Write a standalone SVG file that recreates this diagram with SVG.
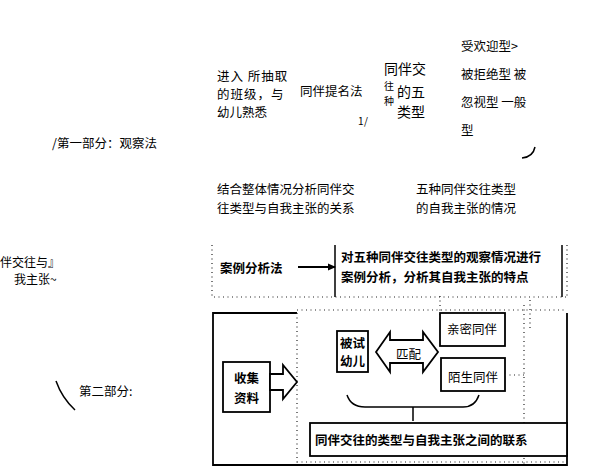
<svg xmlns="http://www.w3.org/2000/svg" width="608" height="470" viewBox="0 0 608 470">
<style>
text{font-family:"Noto Sans CJK SC","Noto Sans",sans-serif;fill:#000}
.t{font-size:12.5px}
.s{font-size:12.5px;font-weight:bold}
.box{fill:#fff;stroke:#000;stroke-width:1.8}
.dot{fill:none;stroke:#222;stroke-width:1.2;stroke-dasharray:1 3.5}
.ln{fill:none;stroke:#000;stroke-width:1.5}
</style>
<defs>
<marker id="ah" markerWidth="8" markerHeight="8" refX="7" refY="4" orient="auto" markerUnits="userSpaceOnUse">
<path d="M0,0.5 L8,4 L0,7.5 Z" fill="#000"/>
</marker>
</defs>
<rect width="608" height="470" fill="#fff"/>

<g id="part1">
<text class="t" x="52" y="148">/第一部分：观察法</text>
</g>
<g id="enter">
<text class="t" x="217" y="81" letter-spacing="1">进入 所抽取</text>
<text class="t" x="217" y="99" letter-spacing="1">的班级，与</text>
<text class="t" x="217" y="117">幼儿熟悉</text>
</g>
<g id="nominate">
<text class="t" x="300" y="96">同伴提名法</text>
<text x="358" y="125" font-size="10" fill="#c60">1</text><text x="364" y="125" font-size="10" fill="#57a">/</text>
</g>
<g id="fivetypes">
<text x="384" y="74" font-size="14">同伴交</text>
<text x="384" y="90" font-size="10">往</text>
<text x="384" y="105" font-size="10">种</text>
<text x="397" y="97" font-size="14">的五</text>
<text x="397" y="117" font-size="14">类型</text>
</g>
<g id="typelist">
<text class="t" x="461" y="51">受欢迎型&gt;</text>
<text class="t" x="461" y="79">被拒绝型 被</text>
<text class="t" x="461" y="107">忽视型 一般</text>
<text class="t" x="461" y="135">型</text>
<path class="ln" d="M522,158 Q533,157 535,147"/>
</g>
<g id="combine">
<text class="t" x="217" y="194">结合整体情况分析同伴交</text>
<text class="t" x="217" y="213">往类型与自我主张的关系</text>
</g>
<g id="situation">
<text class="t" x="416" y="194">五种同伴交往类型</text>
<text class="t" x="416" y="213">的自我主张的情况</text>
</g>
<g id="leftlabel">
<text x="0" y="267" font-size="12">伴交往与』</text>
<text x="14" y="284" font-size="12">我主张~</text>
</g>

<g id="case">
<path class="dot" d="M212,245 V297 H568 M567,245 V297 M295,315 H525"/>
<text class="s" x="220" y="273">案例分析法</text>
<path class="ln" d="M335,245 V297 M562,245 V297"/>
<text class="s" x="341" y="262">对五种同伴交往类型的观察情况进行</text>
<text class="s" x="341" y="282">案例分析，分析其自我主张的特点</text>
</g>

<g id="part2">
<path class="ln" d="M56,381 Q62,398 75,410"/>
<text class="t" x="79" y="396">第二部分:</text>
</g>

<g id="frame">
<path class="box" fill="none" d="M297,313 H213 V465 H567 V313"/>
<path class="dot" d="M297,310 H567 M297,313 V465 M524,305 V465 M530,300 V330 M297,462 H567 M440,296 V320"/>
</g>

<g id="collect">
<rect class="box" x="223" y="362" width="47" height="50"/>
<text class="s" x="234" y="383">收集</text>
<text class="s" x="234" y="403">资料</text>
</g>
<g id="subject">
<rect class="box" x="337" y="331" width="31" height="41"/>
<text class="s" x="340" y="348">被试</text>
<text class="s" x="340" y="366">幼儿</text>
</g>
<g id="close">
<rect class="box" x="440" y="313" width="65" height="33"/>
<text class="t" x="447" y="334">亲密同伴</text>
</g>
<g id="stranger">
<rect class="box" x="441" y="358" width="64" height="33"/>
<text class="t" x="448" y="382">陌生同伴</text>
</g>
<g id="relation">
<rect class="box" x="310" y="423" width="257" height="33"/>
<text class="s" x="315" y="445">同伴交往的类型与自我主张之间的联系</text>
</g>

<g id="connectors">
<line x1="298" y1="267" x2="335" y2="267" stroke="#000" stroke-width="2" marker-end="url(#ah)"/>
<path class="box" d="M270,374 H283 V365 L297,382 L283,399 V390 H270 Z"/>
<path class="box" d="M376,352 L390,332 V340 H423 V332 L438,352 L423,372 V363 H390 V372 Z"/>
<text class="t" x="396" y="359" font-size="11.5">匹配</text>
<path class="dot" d="M505,375 H525"/>
<path class="ln" d="M347,395 Q351,407 365,407 H463 Q475,407 479,395 M413,407 V421"/>
</g>
</svg>
